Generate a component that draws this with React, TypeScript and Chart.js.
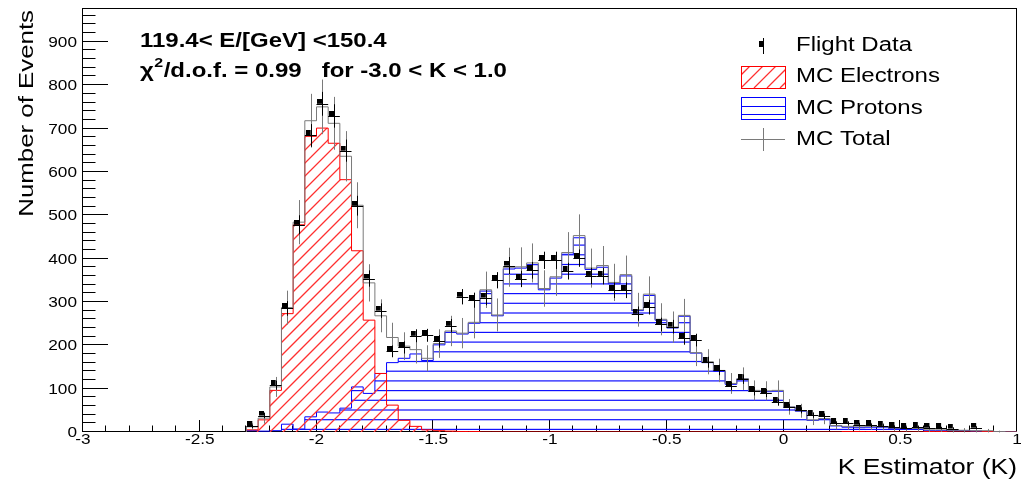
import React, { useEffect, useRef } from 'react';
import { Chart, registerables } from 'chart.js';

Chart.register(...registerables);

// ---- data (bins of width 0.05 starting at K = -2.30) ----
const binLow = -2.3;
const binWidth = 0.05;

const flightData = [
  13, 38, 108, 285, 478, 684, 757, 729, 649, 522,
  354, 280, 186, 195, 222, 223, 209, 245, 312, 304,
  310, 350, 384, 353, 373, 396, 396, 371, 401, 360,
  360, 327, 327, 273, 288, 248, 243, 216, 212, 161,
  143, 106, 122, 94, 90, 69, 57, 50, 39, 36,
  20, 20, 17, 15, 14, 11, 9, 11, 10, 9,
  8, 0, 10, 0, 0, 0,
];
const flightErr = [
  3.6, 6.2, 10.4, 16.9, 21.9, 26.2, 27.5, 27.0, 25.5, 22.8,
  18.8, 16.7, 13.6, 14.0, 14.9, 14.9, 14.5, 15.7, 17.7, 17.4,
  17.6, 18.7, 19.6, 18.8, 19.3, 19.9, 19.9, 19.3, 20.0, 19.0,
  19.0, 18.1, 18.1, 16.5, 17.0, 15.7, 15.6, 14.7, 14.6, 12.7,
  12.0, 10.3, 11.0, 9.7, 9.5, 8.3, 7.5, 7.1, 6.2, 6.0,
  4.5, 4.5, 4.1, 3.9, 3.7, 3.3, 3.0, 3.3, 3.2, 3.0,
  2.8, 0, 3.2, 0, 0, 0,
];
const mcElectrons = [
  5, 28, 96, 273, 478, 682, 701, 666, 582, 418,
  258, 135, 62, 27, 13, 5, 3, 2, 1, 1,
  0, 0, 0, 0, 0, 0, 0, 0, 0, 0,
  0, 0, 0, 0, 0, 0, 0, 0, 0, 0,
  0, 0, 0, 0, 0, 0, 0, 0, 0, 0,
  0, 1, 1, 1, 0, 0, 0, 0, 1, 1,
  0, 0, 0, 1, 0, 0,
];
const mcProtons = [
  3, 2, 3, 18, 7, 35, 46, 44, 55, 104,
  89, 135, 160, 170, 180, 165, 201, 230, 226, 251,
  325, 268, 376, 378, 386, 328, 355, 410, 448, 375,
  380, 342, 360, 280, 315, 258, 240, 267, 182, 160,
  140, 110, 122, 94, 93, 94, 57, 48, 27, 30,
  14, 11, 10, 11, 11, 8, 7, 7, 3, 3,
  3, 3, 2, 1, 1, 0,
];
const mcTotal = [
  12, 32, 104, 287, 484, 718, 750, 712, 636, 523,
  344, 268, 218, 198, 190, 170, 204, 233, 228, 253,
  328, 270, 380, 381, 390, 331, 358, 414, 453, 378,
  384, 345, 363, 282, 318, 260, 242, 269, 183, 162,
  142, 112, 123, 96, 95, 96, 58, 49, 28, 31,
  15, 13, 12, 13, 12, 9, 8, 8, 5, 5,
  4, 4, 3, 3, 1, 0,
];
const mcTotalErr = [
  8, 13, 23, 39, 51, 62, 63, 61, 58, 53,
  43, 38, 34, 32, 32, 30, 33, 35, 35, 37,
  42, 38, 45, 45, 45, 42, 44, 47, 49, 45,
  45, 43, 44, 39, 41, 37, 36, 38, 31, 29,
  27, 24, 26, 23, 22, 23, 18, 16, 12, 13,
  9, 8, 8, 8, 8, 7, 7, 7, 5, 5,
  5, 5, 4, 4, 2, 0,
];

const xTickValues = [-3, -2.5, -2, -1.5, -1, -0.5, 0, 0.5, 1];
const xTickLabels = ['-3', '-2.5', '-2', '-1.5', '-1', '-0.5', '0', '0.5', '1'];
const yTickValues = [0, 100, 200, 300, 400, 500, 600, 700, 800, 900];
const yTickLabels = ['0', '100', '200', '300', '400', '500', '600', '700', '800', '900'];
const legendLabels = ['Flight Data', 'MC Electrons', 'MC Protons', 'MC Total'];
const energyLabel = '119.4< E/[GeV] <150.4';
const chiSymbol = '\u03C7';
const chiSup = '2';
const chiRest = '/d.o.f. = 0.99   for -3.0 < K < 1.0';
const xTitle = 'K Estimator (K)';
const yTitle = 'Number of Events';

const X_MIN = -3;
const X_MAX = 1;
const Y_MAX = 978;

const RED = '#ff0000';
const HATCH_RED = '#ff3030';
const BLUE = '#0000ff';
const HATCH_BLUE = '#1010ff';
const GREY = '#7a7a7a';
const FONT = '"Liberation Sans", Arial, Helvetica, sans-serif';
const STRETCH = 1.23;

function stepPoints(values: number[]) {
  const pts: { x: number; y: number }[] = [{ x: binLow, y: 0 }];
  values.forEach((v, i) => pts.push({ x: binLow + i * binWidth, y: v }));
  pts.push({ x: binLow + values.length * binWidth, y: values[values.length - 1] });
  return pts;
}

function drawText(
  ctx: CanvasRenderingContext2D,
  s: string,
  x: number,
  y: number,
  size: number,
  opts: { bold?: boolean; align?: 'left' | 'right' | 'center'; rotate?: number } = {}
) {
  ctx.save();
  ctx.font = `${opts.bold ? 'bold ' : ''}${size}px ${FONT}`;
  ctx.fillStyle = '#000';
  ctx.textBaseline = 'alphabetic';
  ctx.textAlign = 'left';
  ctx.translate(x, y);
  if (opts.rotate) ctx.rotate(opts.rotate);
  ctx.scale(STRETCH, 1);
  const w = ctx.measureText(s).width;
  let dx = 0;
  if (opts.align === 'right') dx = -w;
  else if (opts.align === 'center') dx = -w / 2;
  ctx.fillText(s, dx, 0);
  ctx.restore();
  return w * STRETCH;
}

function makeMarker() {
  const c = document.createElement('canvas');
  c.width = 10;
  c.height = 10;
  const g = c.getContext('2d')!;
  g.fillStyle = '#000';
  g.fillRect(0, 0, 5, 5);
  return c;
}

// path of the area under a stepped histogram, built from the library's point positions
function histogramPath(meta: any, baseY: number) {
  const pts = meta.data;
  const p = new Path2D();
  p.moveTo(pts[0].x, baseY);
  p.lineTo(pts[0].x, pts[0].y);
  for (let i = 1; i < pts.length; i++) {
    p.lineTo(pts[i].x, pts[i - 1].y);
    p.lineTo(pts[i].x, pts[i].y);
  }
  p.lineTo(pts[pts.length - 1].x, baseY);
  p.closePath();
  return p;
}

const rootPlugin = {
  id: 'rootStyle',
  beforeDatasetsDraw(chart: any) {
    const { ctx, chartArea: a, scales } = chart;
    const x = scales.x;
    const y = scales.y;
    ctx.save();
    ctx.strokeStyle = '#000';
    ctx.lineWidth = 1;
    ctx.strokeRect(a.left - 0.5, a.top + 0.5, a.right - a.left, a.bottom - a.top - 1);
    ctx.beginPath();
    for (let i = 0; i <= 40; i++) {
      const v = X_MIN + i * 0.1;
      const px = Math.round(x.getPixelForValue(v)) - 0.5;
      const len = i % 5 === 0 ? 12 : 6.5;
      ctx.moveTo(px, a.bottom);
      ctx.lineTo(px, a.bottom - len);
    }
    for (let i = 0; i * 20 <= Y_MAX; i++) {
      const v = i * 20;
      const py = Math.round(y.getPixelForValue(v)) - 0.5;
      const len = i % 5 === 0 ? 25 : 12.5;
      ctx.moveTo(a.left, py);
      ctx.lineTo(a.left + len, py);
    }
    ctx.stroke();
    ctx.beginPath();
    ctx.restore();
  },
  beforeDatasetDraw(chart: any, args: any) {
    const ds = chart.data.datasets[args.index];
    const { ctx, scales, chartArea: a } = chart;
    const x = scales.x;
    const y = scales.y;
    const baseY = y.getPixelForValue(0);
    if (ds.label === 'MC Protons') {
      const area = histogramPath(chart.getDatasetMeta(args.index), baseY);
      ctx.save();
      ctx.clip(area);
      ctx.fillStyle = HATCH_BLUE;
      for (let yy = a.bottom - 2.6; yy > a.top; yy -= 9.7) {
        ctx.fillRect(a.left, yy - 0.6, a.right - a.left, 1.2);
      }
      ctx.restore();
    }
    if (ds.label === 'MC Electrons') {
      const area = histogramPath(chart.getDatasetMeta(args.index), baseY);
      ctx.save();
      ctx.clip(area);
      const H = a.bottom - a.top;
      const hatch = new Path2D();
      for (let c = a.left - H; c < a.right; c += 13) {
        hatch.moveTo(c, a.bottom);
        hatch.lineTo(c + H, a.top);
      }
      ctx.strokeStyle = HATCH_RED;
      ctx.lineWidth = 1.25;
      ctx.stroke(hatch);
      ctx.restore();
    }
    if (ds.label === 'Flight Data') {
      ctx.save();
      ctx.lineWidth = 1;
      // MC total error bars (grey)
      const mcBars = new Path2D();
      mcTotal.forEach((v, i) => {
        const e = mcTotalErr[i];
        if (v <= 0 || e <= 0) return;
        const cx = Math.round(x.getPixelForValue(binLow + (i + 0.5) * binWidth)) + 0.5;
        mcBars.moveTo(cx, y.getPixelForValue(v - e));
        mcBars.lineTo(cx, y.getPixelForValue(v + e));
      });
      ctx.strokeStyle = GREY;
      ctx.stroke(mcBars);
      // data error bars (black)
      const dataBars = new Path2D();
      flightData.forEach((v, i) => {
        if (v <= 0) return;
        const e = flightErr[i];
        const cx = Math.round(x.getPixelForValue(binLow + (i + 0.5) * binWidth)) + 0.5;
        const cy = Math.round(y.getPixelForValue(v)) + 0.5;
        dataBars.moveTo(cx, y.getPixelForValue(v - e));
        dataBars.lineTo(cx, y.getPixelForValue(v + e));
        dataBars.moveTo(x.getPixelForValue(binLow + i * binWidth), cy);
        dataBars.lineTo(x.getPixelForValue(binLow + (i + 1) * binWidth), cy);
      });
      ctx.strokeStyle = '#000';
      ctx.stroke(dataBars);
      ctx.restore();
    }
  },
  afterDraw(chart: any) {
    const { ctx, chartArea: a, scales } = chart;
    const x = scales.x;
    const y = scales.y;
    // tick labels
    xTickValues.forEach((v, i) => {
      drawText(ctx, xTickLabels[i], x.getPixelForValue(v), 444, 14, { align: 'center' });
    });
    yTickValues.forEach((v, i) => {
      drawText(ctx, yTickLabels[i], a.left - 6, y.getPixelForValue(v) + 5, 14, { align: 'right' });
    });
    // axis titles
    drawText(ctx, xTitle, a.right, 474, 21.5, { align: 'right' });
    drawText(ctx, yTitle, 33, 10, 21, { align: 'right', rotate: -Math.PI / 2 });
    // annotations
    drawText(ctx, energyLabel, 140, 47, 19.5, { bold: true });
    let cx = 140;
    cx += drawText(ctx, chiSymbol, cx, 77, 19.5, { bold: true });
    cx += drawText(ctx, chiSup, cx + 0.5, 67, 13, { bold: true }) + 1;
    drawText(ctx, chiRest, cx, 77, 19.5, { bold: true });

    // legend
    ctx.save();
    const bx = 741;
    const bw = 44;
    ctx.lineWidth = 1;
    // Flight Data
    ctx.fillStyle = '#000';
    ctx.fillRect(759, 41, 4, 6);
    ctx.fillRect(763, 38, 1, 16);
    // MC Electrons
    ctx.save();
    const box = new Path2D();
    box.rect(bx, 66, bw, 22);
    ctx.clip(box);
    const lh = new Path2D();
    for (let k = -2; k < 6; k++) {
      const x0 = bx + k * 13;
      lh.moveTo(x0, 88);
      lh.lineTo(x0 + 22, 66);
    }
    ctx.strokeStyle = HATCH_RED;
    ctx.lineWidth = 1.25;
    ctx.stroke(lh);
    ctx.restore();
    ctx.strokeStyle = RED;
    ctx.lineWidth = 1;
    ctx.strokeRect(bx + 0.5, 66.5, bw, 22);
    // MC Protons
    ctx.fillStyle = BLUE;
    ctx.fillRect(bx, 106, bw, 1);
    ctx.fillRect(bx, 114, bw, 1);
    ctx.strokeStyle = BLUE;
    ctx.strokeRect(bx + 0.5, 97.5, bw, 22);
    // MC Total
    ctx.fillStyle = GREY;
    ctx.fillRect(bx, 139, bw, 1);
    ctx.fillRect(763, 128, 1, 23);
    ctx.restore();
    const rows = [51, 82, 114, 145];
    legendLabels.forEach((t, i) => drawText(ctx, t, 796, rows[i], 19.5));
  },
};

export default function App() {
  const ref = useRef<HTMLCanvasElement | null>(null);
  useEffect(() => {
    const canvas = ref.current!;
    const marker = makeMarker();
    const chart = new Chart(canvas, {
      type: 'line',
      data: {
        datasets: [
          {
            label: 'Flight Data',
            data: flightData
              .map((v, i) => (v > 0 ? { x: binLow + (i + 0.5) * binWidth, y: v } : null))
              .filter((p) => p !== null) as any,
            showLine: false,
            pointStyle: marker as any,
            pointRadius: 3,
            order: 1,
          },
          {
            label: 'MC Total',
            data: stepPoints(mcTotal) as any,
            stepped: 'before',
            borderColor: GREY,
            borderWidth: 1,
            fill: false,
            pointRadius: 0,
            order: 2,
          },
          {
            label: 'MC Electrons',
            data: stepPoints(mcElectrons) as any,
            stepped: 'before',
            borderColor: RED,
            borderWidth: 1,
            fill: false,
            pointRadius: 0,
            order: 3,
          },
          {
            label: 'MC Protons',
            data: stepPoints(mcProtons) as any,
            stepped: 'before',
            borderColor: BLUE,
            borderWidth: 1,
            fill: false,
            pointRadius: 0,
            order: 4,
          },
        ],
      },
      options: {
        responsive: false,
        animation: false,
        events: [],
        layout: { padding: { top: 8, right: 8, left: 0, bottom: 0 } },
        scales: {
          x: {
            type: 'linear',
            min: X_MIN,
            max: X_MAX,
            ticks: { display: false, stepSize: 0.5 },
            grid: { display: false, drawTicks: false },
            border: { display: false },
            afterFit: (s: any) => {
              s.height = 51;
            },
          },
          y: {
            type: 'linear',
            min: 0,
            max: Y_MAX,
            ticks: { display: false, stepSize: 100 },
            grid: { display: false, drawTicks: false },
            border: { display: false },
            afterFit: (s: any) => {
              s.width = 83;
            },
          },
        },
        plugins: {
          legend: { display: false },
          tooltip: { enabled: false },
        },
      },
      plugins: [rootPlugin as any],
    });
    return () => chart.destroy();
  }, []);
  return (
    <div style={{ position: 'fixed', left: 0, top: 0, width: 1025, height: 483, background: '#fff' }}>
      <canvas ref={ref} width={1025} height={483} style={{ width: 1025, height: 483, display: 'block' }} />
    </div>
  );
}
